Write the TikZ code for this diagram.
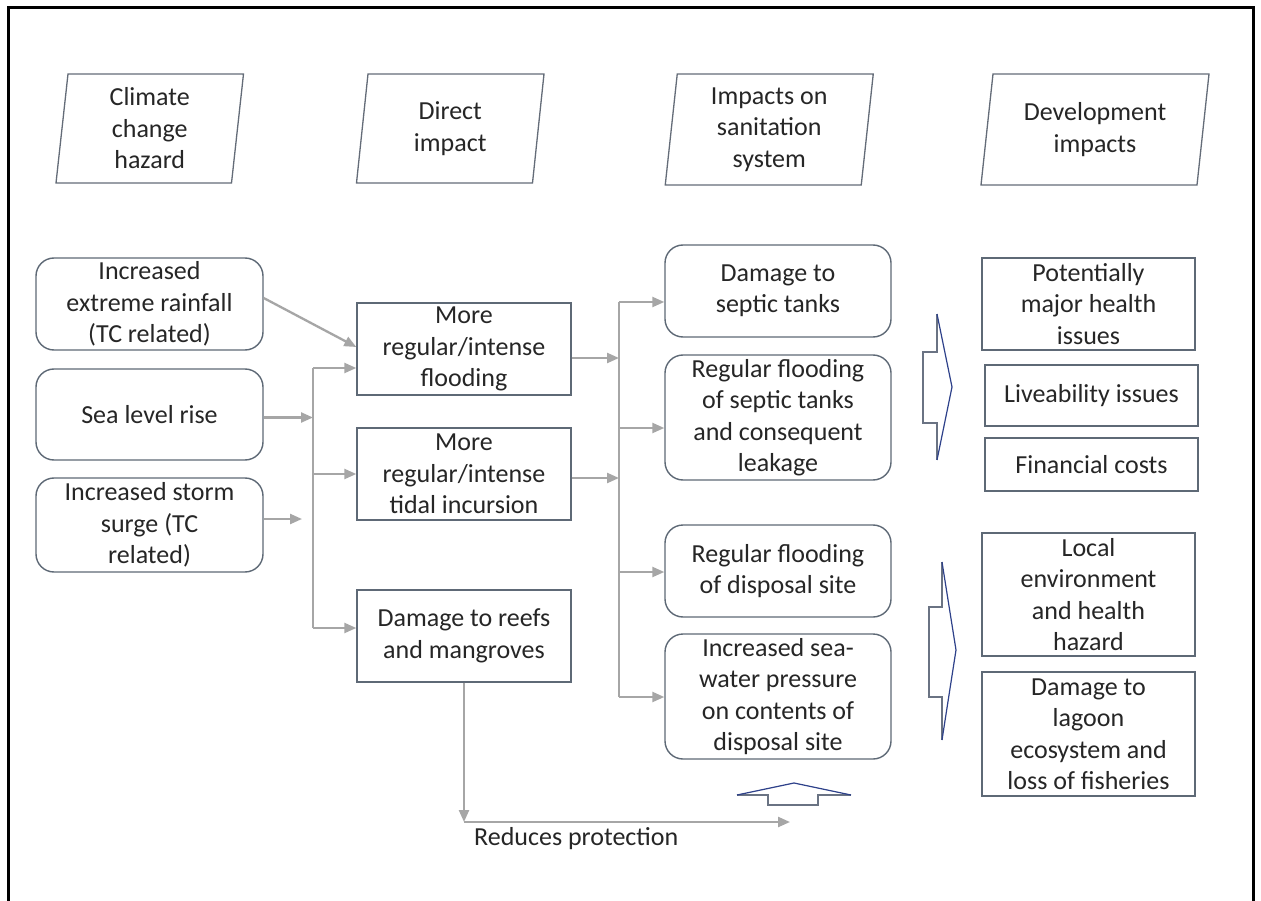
\documentclass[tikz,border=0pt]{standalone}
\usepackage{fontspec}
\setmainfont{Carlito}
\usetikzlibrary{arrows.meta,calc}

\definecolor{boxline}{HTML}{5E6976}
\definecolor{hdrline}{HTML}{646C78}
\definecolor{flowgray}{HTML}{A6A6A6}
\definecolor{txt}{HTML}{262626}
\definecolor{blockline}{HTML}{6A7383}
\definecolor{blockhead}{HTML}{2E418A}

% parallelogram drawn round a header label: #1 node, #2 half width, #3 half height, #4 half slant
\newcommand\hdrbox[4]{%
  \draw[hdrline, line width=1.3pt, line join=miter]
    ($(#1)+(-#2+#4,-#3)$) -- ($(#1)+(#2+#4,-#3)$) --
    ($(#1)+(#2-#4,#3)$) -- ($(#1)+(-#2-#4,#3)$) -- cycle;}

\begin{document}
\begin{tikzpicture}[x=1pt,y=-1pt,
  lbl/.style={font=\fontsize{26}{31.5}\selectfont, text=txt, align=center, inner sep=0pt},
  rbox/.style={lbl, draw=boxline, line width=1.4pt, rounded corners=18pt},
  sbox/.style={lbl, draw=boxline, line width=1.4pt},
  flowline/.style={draw=flowgray, line width=2.3pt},
  flowarr/.style={flowline, -{Triangle[length=12pt,width=10pt]}},
  blockarrow/.style={draw=blockline, line width=1.2pt, line join=miter},
  blocktip/.style={draw=blockhead, line width=1.2pt, line join=miter}]

\useasboundingbox (0,0) rectangle (1261,901);
\fill[white] (0,0) rectangle (1261,901);

% outer frame (open at the bottom)
\draw[line width=3pt, black] (8,901) -- (8,8) -- (1253,8) -- (1253,901);

% ---- column headers ----
\node[lbl] (hdA) at (149.75,128.5) {Climate\\change\\hazard};
\node[lbl] (hdB) at (450.25,128.5) {Direct\\impact};
\node[lbl] (hdC) at (769.25,129.5) {Impacts on\\sanitation\\system};
\node[lbl] (hdD) at (1095,129.5) {Development\\impacts};
\hdrbox{hdA}{87.75}{54.5}{6}
\hdrbox{hdB}{88}{54.5}{5.75}
\hdrbox{hdC}{98}{55.5}{6}
\hdrbox{hdD}{108}{55.5}{6}

% ---- climate change hazards ----
\node[rbox, minimum width=227pt, minimum height=92pt] (rain) at (149.5,304) {Increased\\extreme rainfall\\(TC related)};
\node[rbox, minimum width=227pt, minimum height=91pt] (sea) at (149.5,414.5) {Sea level rise};
\node[rbox, minimum width=227pt, minimum height=94pt] (storm) at (149.5,525) {Increased storm\\surge (TC\\related)};

% ---- direct impacts ----
\node[sbox, minimum width=214pt, minimum height=92pt] (flood) at (464,349) {More\\regular/intense\\flooding};
\node[sbox, minimum width=214pt, minimum height=92pt] (tidal) at (464,474) {More\\regular/intense\\tidal incursion};
\node[sbox, minimum width=214pt, minimum height=92pt] (reef) at (464,636) {Damage to reefs\\and mangroves};

% ---- impacts on sanitation system ----
\node[rbox, minimum width=226pt, minimum height=92pt] (septic) at (778,291) {Damage to\\septic tanks};
\node[rbox, minimum width=226pt, minimum height=125pt] (sepflood) at (778,417.5) {Regular flooding\\of septic tanks\\and consequent\\leakage};
\node[rbox, minimum width=226pt, minimum height=92pt] (disposal) at (778,571) {Regular flooding\\of disposal site};
\node[rbox, minimum width=226pt, minimum height=125pt] (pressure) at (778,696.5) {Increased sea-\\water pressure\\on contents of\\disposal site};

% ---- development impacts ----
\node[sbox, minimum width=213pt, minimum height=92pt] (health) at (1088.5,304) {Potentially\\major health\\issues};
\node[sbox, minimum width=213pt, minimum height=61pt] (live) at (1091.5,395.5) {Liveability issues};
\node[sbox, minimum width=213pt, minimum height=53pt] (cost) at (1091.5,464.5) {Financial costs};
\node[sbox, minimum width=213pt, minimum height=123pt] (local) at (1088.5,594.5) {Local\\environment\\and health\\hazard};
\node[sbox, minimum width=213pt, minimum height=124pt] (lagoon) at (1088.5,734) {Damage to\\lagoon\\ecosystem and\\loss of fisheries};

% ---- connectors: hazards to direct impacts ----
\coordinate (busAt) at (313,368);
\coordinate (busAb) at (313,628);
\coordinate (stormtip) at (302,519);
\draw[flowarr] ([yshift=6pt]rain.east) -- ([yshift=2pt]flood.west);
\draw[flowarr] ([yshift=-3pt]sea.east) -- ([yshift=-3pt]sea.east -| busAt);
\draw[flowarr] (storm.east |- stormtip) -- (stormtip);
\draw[flowline] (busAt) -- (busAb);
\draw[flowarr] (busAt) -- (busAt -| flood.west);
\draw[flowarr] (tidal.west -| busAt) -- (tidal.west);
\draw[flowarr] (busAb) -- (busAb -| reef.west);

% ---- connectors: direct impacts to sanitation impacts ----
\coordinate (busBt) at (619,302);
\coordinate (busB2) at (619,428);
\coordinate (busB3) at (619,572);
\coordinate (busBb) at (619,697);
\draw[flowarr] ([yshift=-9pt]flood.east) -- ([yshift=-9pt]flood.east -| busBt);
\draw[flowarr] ([yshift=-4pt]tidal.east) -- ([yshift=-4pt]tidal.east -| busBt);
\draw[flowline] (busBt) -- (busBb);
\draw[flowarr] (busBt) -- (busBt -| septic.west);
\draw[flowarr] (busB2) -- (busB2 -| sepflood.west);
\draw[flowarr] (busB3) -- (busB3 -| disposal.west);
\draw[flowarr] (busBb) -- (busBb -| pressure.west);

% ---- reduced protection ----
\coordinate (rpc) at (464,822);
\coordinate (rpend) at (790,822);
\draw[flowarr] (reef.south) -- (rpc);
\draw[flowarr] (rpc) -- (rpend);
\node[lbl, anchor=west] (rptext) at (474,839) {Reduces protection};

% ---- block arrows ----
\draw[blockarrow] (937,314) -- (937,352) -- (923,352) -- (923,423) -- (937,423) -- (937,460);
\draw[blocktip] (937,314) -- (952,387) -- (937,460);
\draw[blockarrow] (942,562) -- (942,607) -- (929,607) -- (929,697) -- (942,697) -- (942,740);
\draw[blocktip] (942,562) -- (956,650) -- (942,740);
\draw[blockarrow] (737,795) -- (768,795) -- (768,805) -- (818,805) -- (818,795) -- (851,795);
\draw[blocktip] (737,795) -- (794,783) -- (851,795);

\end{tikzpicture}
\end{document}
